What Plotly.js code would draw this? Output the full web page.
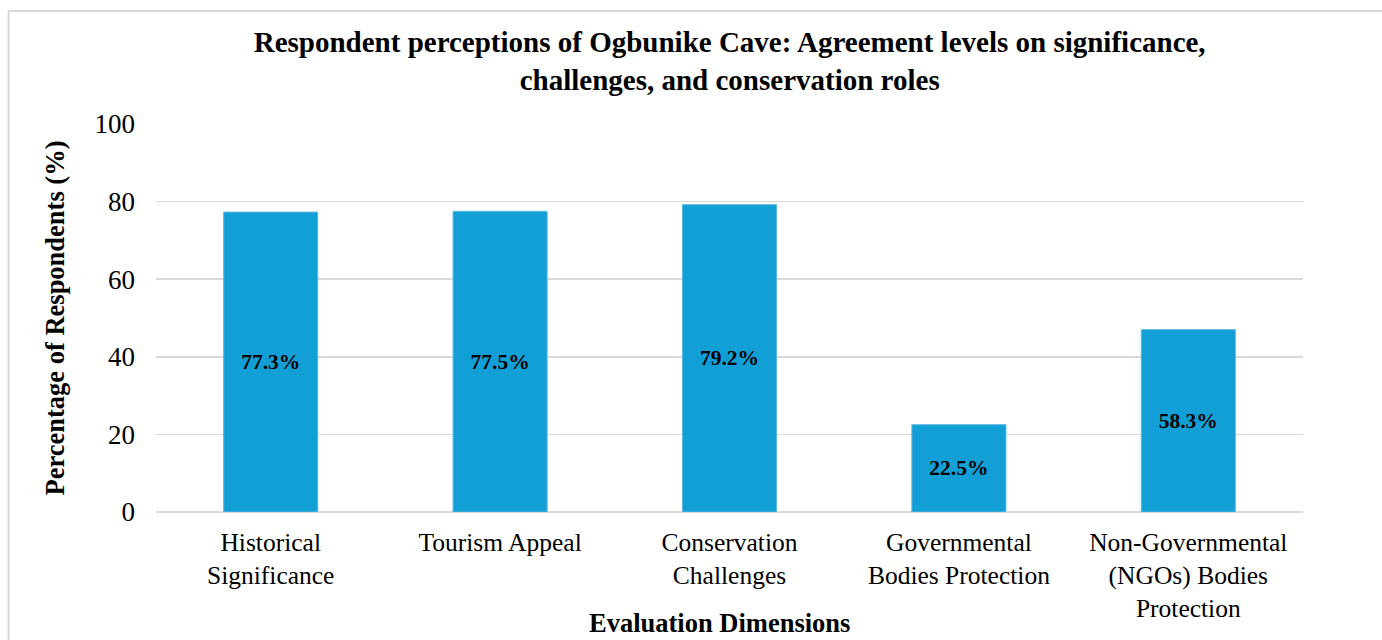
<!DOCTYPE html>
<html>
<head>
<meta charset="utf-8">
<script src="https://cdn.plot.ly/plotly-3.0.1.min.js"></script>
<style>
html,body{margin:0;padding:0;background:#fff;}
#chart{width:1382px;height:640px;}
</style>
</head>
<body>
<div id="chart"></div>
<script>
const categories = [
  "Historical<br>Significance",
  "Tourism Appeal",
  "Conservation<br>Challenges",
  "Governmental<br>Bodies Protection",
  "Non-Governmental<br>(NGOs) Bodies<br>Protection"
];
const barValues = [77.3, 77.5, 79.2, 22.5, 47.0];
const barLabels = ["77.3%", "77.5%", "79.2%", "22.5%", "58.3%"];
const yTicks = [0, 20, 40, 60, 80, 100];

const serif = "Liberation Serif, Times New Roman, serif";

const trace = {
  type: "bar",
  x: categories,
  y: barValues,
  text: barLabels,
  textposition: "inside",
  insidetextanchor: "middle",
  textangle: 0,
  textfont: {family: serif, size: 21.5, color: "#000", weight: "bold"},
  marker: {color: "#129fd6", line: {color: "#5ab8e0", width: 1}},
  width: 0.41,
  hoverinfo: "skip"
};

const layout = {
  width: 1382,
  height: 640,
  margin: {l: 155.5, r: 79, t: 124, b: 128},
  paper_bgcolor: "#ffffff",
  plot_bgcolor: "#ffffff",
  showlegend: false,
  title: {
    text: "<b>Respondent perceptions of Ogbunike Cave: Agreement levels on significance,<br>challenges, and conservation roles</b>",
    font: {family: serif, size: 29, color: "#000"},
    x: 0.528, xanchor: "center",
    y: 0.918, yanchor: "top",
    yref: "container"
  },
  xaxis: {
    type: "category",
    tickfont: {family: serif, size: 25.5, color: "#000"},
    ticks: "",
    ticklabelstandoff: 12,
    showgrid: false,
    showline: false,
    zeroline: false
  },
  yaxis: {
    range: [0, 100],
    tickvals: yTicks,
    ticktext: yTicks.map(String),
    tickfont: {family: serif, size: 27, color: "#000"},
    ticks: "",
    ticklabelstandoff: 20,
    showgrid: true,
    gridcolor: "#d9d9d9",
    gridwidth: 1.5,
    zeroline: true,
    zerolinecolor: "#d9d9d9",
    zerolinewidth: 1.5,
    showline: false,
    title: {
      text: "<b>Percentage of Respondents (%)</b>",
      font: {family: serif, size: 26.5, color: "#000"},
      standoff: 22
    }
  },
  annotations: [{
    text: "<b>Evaluation Dimensions</b>",
    xref: "paper", yref: "paper",
    x: 0.4915, y: -0.286,
    xanchor: "center", yanchor: "middle",
    showarrow: false,
    font: {family: serif, size: 26.5, color: "#000"}
  }],
  shapes: [{
    type: "rect", xref: "paper", yref: "paper",
    x0: -0.1285, x1: 1.3, y0: -0.5, y1: 1.291,
    line: {color: "#d9d9d9", width: 2},
    fillcolor: "rgba(0,0,0,0)",
    layer: "below"
  }]
};

Plotly.newPlot("chart", [trace], layout, {displayModeBar: false, staticPlot: true});
</script>
</body>
</html>
